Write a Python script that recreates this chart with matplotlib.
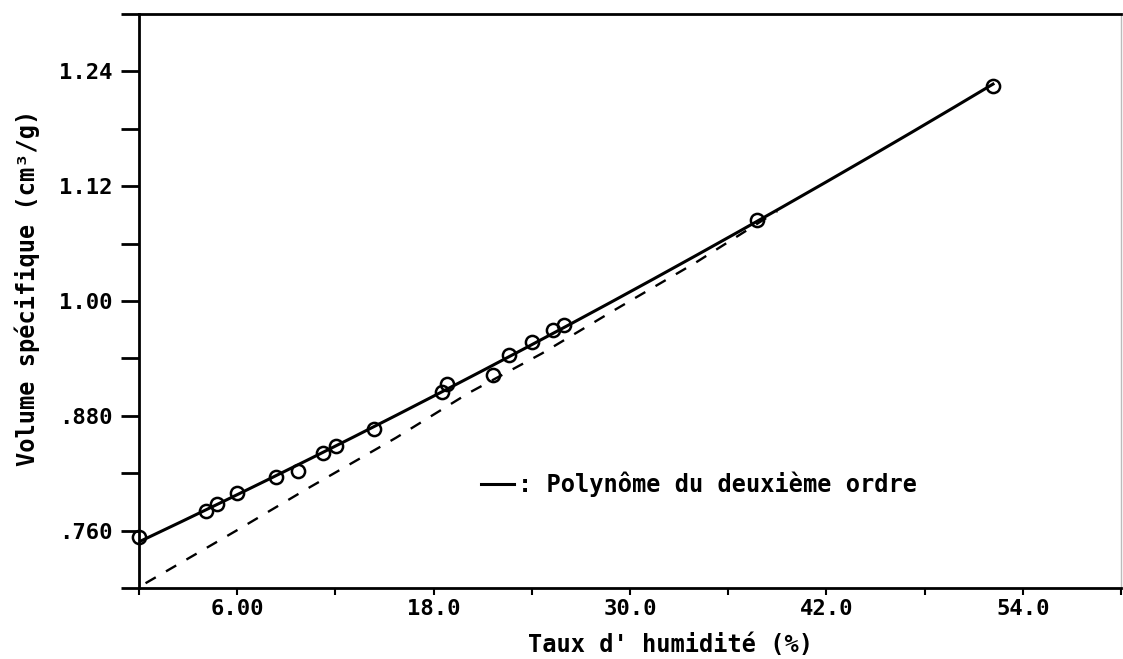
import numpy as np
import matplotlib
matplotlib.use("Agg")
import matplotlib.pyplot as plt

# ---- data ----
humidity = [0.0, 4.08, 4.77, 6.01, 8.39, 9.70, 11.23, 12.04, 14.37,
            18.50, 18.84, 21.64, 22.60, 24.02, 25.28, 25.99, 37.78, 52.18]
volume = [0.753, 0.781, 0.788, 0.799, 0.816, 0.822, 0.841, 0.848, 0.866,
          0.905, 0.913, 0.923, 0.944, 0.957, 0.970, 0.975, 1.085, 1.225]

# dashed reference curve
dash_x = [0.4, 5.95, 10.3, 15.7, 20.16, 24.6, 29.0, 34.0, 39.0]
dash_y = [0.705, 0.760, 0.804, 0.857, 0.904, 0.945, 0.990, 1.040, 1.094]

x_ticks = [0, 6, 12, 18, 24, 30, 36, 42, 48, 54, 60]
x_labels = ["", "6.00", "", "18.0", "", "30.0", "", "42.0", "", "54.0", ""]
y_ticks = [0.70, 0.76, 0.82, 0.88, 0.94, 1.00, 1.06, 1.12, 1.18, 1.24, 1.30]
y_labels = ["", ".760", "", ".880", "", "1.00", "", "1.12", "", "1.24", ""]

legend_text = ": Polynôme du deuxième ordre"
x_title = "Taux d' humidité (%)"
y_title = "Volume spécifique (cm³/g)"

FONT = ["DejaVu Sans Mono", "DejaVu Sans"]
plt.rcParams["font.family"] = FONT
plt.rcParams["font.weight"] = "bold"

W, H = 1123, 659
fig = plt.figure(figsize=(W / 100, H / 100), dpi=100)
L, R, T, B = 139, 1121, 14, 588
ax = fig.add_axes([L / W, 1 - B / H, (R - L) / W, (B - T) / H])

# second-order polynomial fit
coef = np.polyfit(humidity, volume, 2)
xf = np.linspace(min(humidity), max(humidity), 200)
ax.plot(xf, np.polyval(coef, xf), color="black", lw=2.2, zorder=3)
ax.plot(dash_x, dash_y, color="black", lw=1.7, ls=(0, (5, 5)), zorder=2)
ax.plot(humidity, volume, ls="none", marker="o", ms=9.5, mfc="none",
        mec="black", mew=1.8, zorder=4, clip_on=False)

ax.set_xlim(0, 60)
ax.set_ylim(0.70, 1.30)
ax.set_xticks(x_ticks)
ax.set_xticklabels(x_labels)
ax.set_yticks(y_ticks)
ax.set_yticklabels(y_labels)
ax.tick_params(axis="x", direction="out", length=5, width=1.5, pad=3,
               labelsize=16)
ax.tick_params(axis="y", direction="out", length=13, width=2, pad=6,
               labelsize=16)
for lab in ax.get_xticklabels() + ax.get_yticklabels():
    lab.set_fontweight("bold")

for s in ("left", "bottom", "top"):
    ax.spines[s].set_linewidth(2)
    ax.spines[s].set_color("black")
ax.spines["right"].set_linewidth(1)
ax.spines["right"].set_color("#bbbbbb")

# axis titles
fig.text(670 / W, 1 - 645 / H, x_title, ha="center", va="center",
         fontsize=17, fontweight="bold")
fig.text(27 / W, 1 - 288 / H, y_title, ha="center", va="center",
         rotation=90, fontsize=17, fontweight="bold")

# legend
lx0, lx1, ly = 481, 514, 484
ax.plot([(lx0 - L) / (R - L), (lx1 - L) / (R - L)],
        [(B - ly) / (B - T)] * 2, transform=ax.transAxes, color="black", lw=2.2)
fig.text(518 / W, 1 - ly / H, legend_text, ha="left", va="center",
         fontsize=17, fontweight="bold")

fig.savefig("out.png", dpi=100)
